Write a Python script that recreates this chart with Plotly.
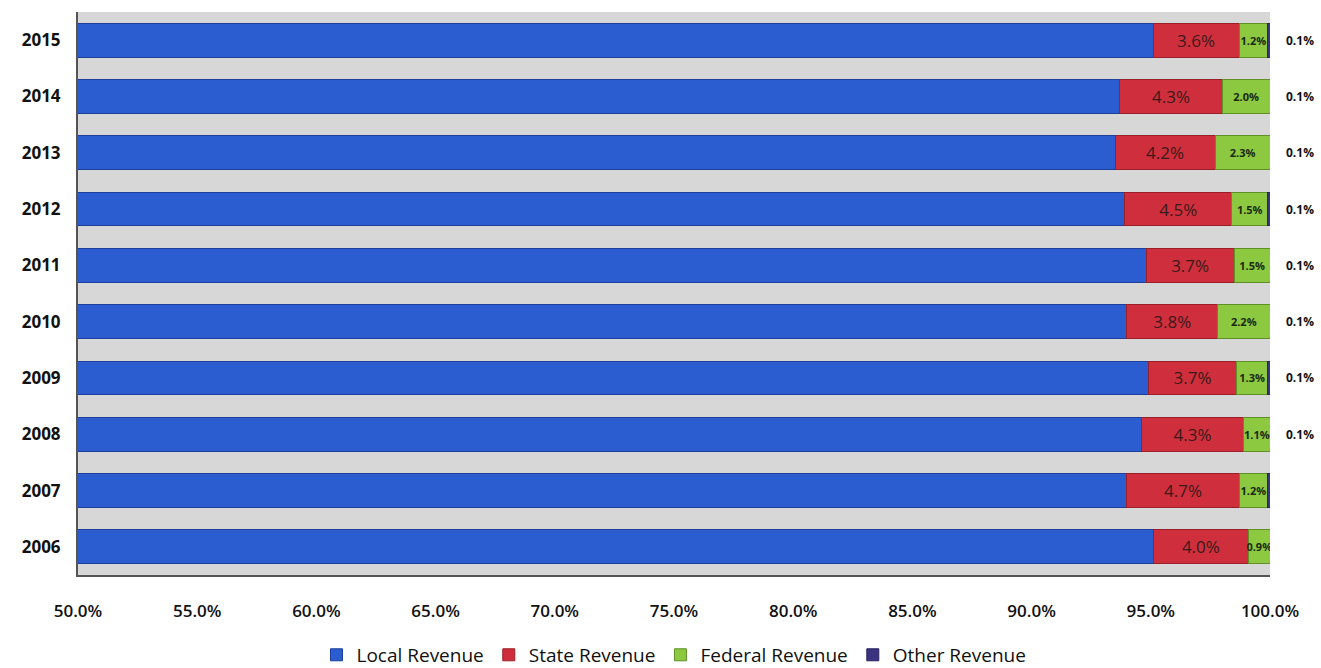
import plotly.graph_objects as go

years = ["2006", "2007", "2008", "2009", "2010", "2011", "2012", "2013", "2014", "2015"]
local_rev = [95.1, 94.0, 94.6, 94.9, 94.0, 94.8, 93.9, 93.5, 93.7, 95.1]
state_rev = [4.0, 4.7, 4.3, 3.7, 3.8, 3.7, 4.5, 4.2, 4.3, 3.6]
federal_rev = [0.9, 1.2, 1.1, 1.3, 2.2, 1.5, 1.5, 2.3, 2.0, 1.2]
other_rev = [0.0, 0.1, 0.1, 0.1, 0.1, 0.1, 0.1, 0.1, 0.1, 0.1]
other_labels = ["", "", "0.1%", "0.1%", "0.1%", "0.1%", "0.1%", "0.1%", "0.1%", "0.1%"]
x_ticks = [50, 55, 60, 65, 70, 75, 80, 85, 90, 95, 100]

FONT = "Open Sans"

fig = go.Figure()
fig.add_trace(go.Bar(
    y=years, x=local_rev, name="Local Revenue", orientation="h",
    marker=dict(color="#2b5dd0", line=dict(color="#1d3f99", width=1)),
    text=[f"{v:.1f}%" for v in local_rev], textposition="inside", textangle=0,
    insidetextanchor="middle", textfont=dict(family=FONT, size=17, color="#22335a"),
))
fig.add_trace(go.Bar(
    y=years, x=state_rev, name="State Revenue", orientation="h",
    marker=dict(color="#cf2f3c", line=dict(color="#9b1f28", width=1)),
    text=[f"{v:.1f}%" for v in state_rev], textposition="inside", textangle=0,
    insidetextanchor="middle", textfont=dict(family=FONT, size=17, color="#3a1a1a"),
))
fig.add_trace(go.Bar(
    y=years, x=federal_rev, name="Federal Revenue", orientation="h",
    marker=dict(color="#8cc840", line=dict(color="#5f8f25", width=1)),
    text=[f"{v:.1f}%" for v in federal_rev], textposition="inside", textangle=0,
    insidetextanchor="middle", constraintext="none",
    textfont=dict(family=FONT, size=11, color="#1a2a10", weight="bold"),
))
fig.add_trace(go.Bar(
    y=years, x=other_rev, name="Other Revenue", orientation="h",
    marker=dict(color="#3a3380", line=dict(color="#2a2460", width=1)),
    textposition="none",
))

for i, lab in enumerate(other_labels):
    if lab:
        fig.add_annotation(x=1, xref="paper", y=i, yref="y", text=lab,
                           showarrow=False, xanchor="left", xshift=14,
                           font=dict(family=FONT, size=12, color="#111", weight="bold"))

fig.update_layout(
    barmode="stack",
    bargap=0.4,
    width=1321, height=668,
    margin=dict(l=78, r=51, t=12, b=93, autoexpand=False),
    paper_bgcolor="white",
    plot_bgcolor="#d7d7d7",
    font=dict(family=FONT, color="#111"),
    showlegend=True,
    legend=dict(orientation="h", x=0.5, xanchor="center", y=-0.142, yanchor="middle",
                font=dict(family=FONT, size=19, color="#111"), traceorder="normal"),
)
fig.update_xaxes(
    range=[50, 100], tickvals=x_ticks, ticktext=[f"{v:.1f}%" for v in x_ticks],
    showgrid=False, zeroline=False, showline=True, linecolor="#555", linewidth=2,
    ticks="outside", ticklen=20, tickcolor="rgba(0,0,0,0)",
    tickfont=dict(family=FONT, size=17, color="#111", weight=600),
)
fig.update_yaxes(
    type="category", categoryorder="array", categoryarray=years,
    range=[-0.5, len(years) - 0.5],
    showgrid=False, showline=True, linecolor="#555", linewidth=2,
    ticks="outside", ticklen=12, tickcolor="rgba(0,0,0,0)",
    tickfont=dict(family=FONT, size=17, color="#111", weight="bold"),
)

fig.write_html("out.html")
